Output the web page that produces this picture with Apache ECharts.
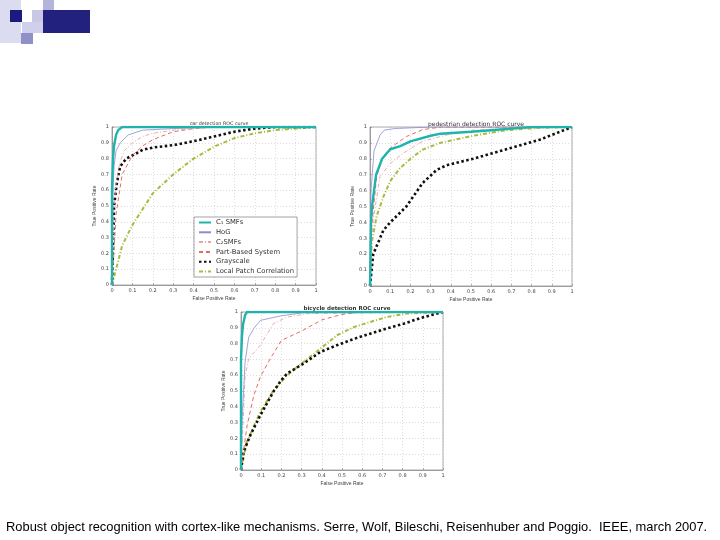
<!DOCTYPE html>
<html>
<head>
<meta charset="utf-8">
<script src="https://cdn.jsdelivr.net/npm/echarts@6/dist/echarts.min.js"></script>
<style>
  html, body { margin: 0; padding: 0; background: #fff; }
  #main { width: 720px; height: 540px; }
</style>
</head>
<body>
<div id="main"></div>
<script>
  // series names, shared by the three plots
  const seriesNames = ['C\u2081 SMFs', 'HoG', 'C\u2082SMFs', 'Part-Based System', 'Grayscale', 'Local Patch Correlation'];
  const plotTitles = ['car detection ROC curve', 'pedestrian detection ROC curve', 'bicycle detection ROC curve'];

  // car detection: [false positive rate, true positive rate]
  const carC1 = [[0,0],[0,0.6],[0.005,0.8],[0.01,0.88],[0.02,0.95],[0.03,0.98],[0.05,1],[1,1]];
  const carHoG = [[0,0],[0.005,0.6],[0.01,0.75],[0.02,0.85],[0.04,0.9],[0.08,0.95],[0.15,0.98],[0.3,0.99],[0.5,1],[1,1]];
  const carC2 = [[0,0],[0.01,0.5],[0.02,0.65],[0.04,0.78],[0.06,0.85],[0.1,0.9],[0.15,0.94],[0.2,0.96],[0.3,0.98],[0.5,1],[1,1]];
  const carPart = [[0,0],[0.02,0.45],[0.05,0.7],[0.1,0.82],[0.15,0.88],[0.2,0.92],[0.3,0.97],[0.4,0.99],[0.5,1],[1,1]];
  const carGray = [[0,0],[0.01,0.5],[0.023,0.64],[0.04,0.75],[0.07,0.8],[0.1,0.82],[0.15,0.855],[0.2,0.87],[0.3,0.885],[0.4,0.91],[0.5,0.94],[0.6,0.97],[0.7,0.99],[0.8,1],[1,1]];
  const carLocal = [[0,0],[0.02,0.1],[0.05,0.25],[0.1,0.38],[0.2,0.58],[0.3,0.7],[0.4,0.8],[0.5,0.875],[0.6,0.93],[0.7,0.96],[0.8,0.98],[0.9,0.99],[1,1]];

  // pedestrian detection
  const pedC1 = [[0,0],[0.005,0.4],[0.01,0.5],[0.03,0.7],[0.06,0.8],[0.1,0.86],[0.15,0.88],[0.2,0.91],[0.3,0.945],[0.35,0.958],[0.5,0.97],[0.6,0.98],[0.7,0.99],[0.8,1],[1,1]];
  const pedHoG = [[0,0],[0.005,0.6],[0.02,0.85],[0.05,0.95],[0.07,0.98],[0.12,0.99],[0.3,1],[1,1]];
  const pedC2 = [[0,0],[0.016,0.42],[0.05,0.69],[0.1,0.77],[0.165,0.836],[0.26,0.91],[0.38,0.95],[0.51,0.98],[0.67,0.99],[1,1]];
  const pedPart = [[0,0],[0.008,0.37],[0.033,0.69],[0.066,0.815],[0.1,0.868],[0.18,0.94],[0.26,0.983],[0.35,1],[1,1]];
  const pedGray = [[0,0],[0.016,0.2],[0.066,0.35],[0.1,0.4],[0.18,0.5],[0.26,0.647],[0.33,0.73],[0.38,0.76],[0.51,0.8],[0.675,0.86],[0.84,0.92],[1,1]];
  const pedLocal = [[0,0],[0.008,0.27],[0.033,0.44],[0.066,0.56],[0.1,0.66],[0.148,0.74],[0.2,0.8],[0.26,0.857],[0.346,0.9],[0.51,0.945],[0.675,0.98],[0.84,0.995],[1,1]];

  // bicycle detection
  const bikeC1 = [[0,0],[0,0.7],[0.005,0.85],[0.01,0.92],[0.02,0.98],[0.03,1],[1,1]];
  const bikeHoG = [[0,0],[0.005,0.3],[0.02,0.68],[0.038,0.84],[0.063,0.895],[0.096,0.947],[0.195,0.975],[0.31,0.996],[1,1]];
  const bikeC2 = [[0,0],[0.02,0.59],[0.038,0.705],[0.096,0.79],[0.16,0.926],[0.228,0.968],[0.33,0.99],[1,1]];
  const bikePart = [[0,0],[0.03,0.28],[0.063,0.47],[0.096,0.59],[0.145,0.705],[0.2,0.82],[0.3,0.88],[0.4,0.95],[0.5,0.985],[0.6,1],[1,1]];
  const bikeGray = [[0,0],[0.013,0.116],[0.046,0.22],[0.096,0.347],[0.16,0.495],[0.2,0.57],[0.228,0.61],[0.31,0.674],[0.393,0.747],[0.475,0.79],[0.56,0.83],[0.64,0.863],[0.72,0.895],[0.805,0.926],[0.89,0.962],[0.97,0.99],[1,1]];
  const bikeLocal = [[0,0],[0.03,0.18],[0.096,0.37],[0.16,0.5],[0.228,0.6],[0.31,0.684],[0.393,0.768],[0.475,0.853],[0.56,0.905],[0.64,0.937],[0.72,0.968],[0.82,0.99],[1,1]];

  const plotData = [
    [carC1, carHoG, carC2, carPart, carGray, carLocal],
    [pedC1, pedHoG, pedC2, pedPart, pedGray, pedLocal],
    [bikeC1, bikeHoG, bikeC2, bikePart, bikeGray, bikeLocal]
  ];

  const lineStyles = [
    {color: '#1fb3ad', width: 2.4, type: 'solid'},
    {color: '#8c8cd0', width: 0.8, type: 'solid'},
    {color: '#e9a4a4', width: 0.9, type: [4, 2, 1, 2]},
    {color: '#e66a62', width: 1, type: [4, 3]},
    {color: '#111111', width: 2.6, type: [2.5, 2.5]},
    {color: '#a9bb3c', width: 2, type: [4, 2, 1, 2]}
  ];

  const grids = [
    {left: 112, top: 127, width: 204, height: 158},
    {left: 370, top: 127, width: 202, height: 159},
    {left: 241, top: 312, width: 202, height: 158}
  ];

  const chart = echarts.init(document.getElementById('main'));

  const axisLabel = {fontSize: 5, color: '#444', margin: 3, fontFamily: 'DejaVu Sans'};
  const split = {show: true, lineStyle: {color: '#bbb', width: 0.5, type: [1, 2]}};

  const xAxis = grids.map((g, i) => ({
    gridIndex: i, type: 'value', min: 0, max: 1, interval: 0.1,
    name: 'False Positive Rate', nameLocation: 'middle', nameGap: 11,
    nameTextStyle: {fontSize: 5, color: '#444'},
    axisLine: {lineStyle: {color: '#777', width: 0.6}},
    axisTick: {inside: true, length: 2, lineStyle: {color: '#777', width: 0.5}},
    axisLabel: axisLabel, splitLine: split
  }));
  const yAxis = grids.map((g, i) => ({
    gridIndex: i, type: 'value', min: 0, max: 1, interval: 0.1,
    name: 'True Positive Rate', nameLocation: 'middle', nameGap: 14,
    nameTextStyle: {fontSize: 5, color: '#444'},
    axisLine: {lineStyle: {color: '#777', width: 0.6}},
    axisTick: {inside: true, length: 2, lineStyle: {color: '#777', width: 0.5}},
    axisLabel: axisLabel, splitLine: split
  }));

  const series = [];
  plotData.forEach((lines, gi) => {
    lines.forEach((pts, si) => {
      series.push({
        name: seriesNames[si], type: 'line', xAxisIndex: gi, yAxisIndex: gi,
        data: pts, symbol: 'none', showSymbol: false, smooth: false,
        lineStyle: lineStyles[si], itemStyle: {color: lineStyles[si].color},
        z: 10 - si, animation: false
      });
    });
  });

  const titleSizes = [4.8, 6, 5.5];
  const title = plotTitles.map((t, i) => ({
    text: t, left: grids[i].left + grids[i].width / 2, top: grids[i].top - 11,
    textAlign: 'center',
    textStyle: {fontSize: titleSizes[i], fontWeight: i === 2 ? 'bold' : 'normal', color: '#333', fontFamily: 'DejaVu Sans'}
  }));

  // slide decoration
  const logo = [
    {x: 0, y: 0, w: 21, h: 43, c: '#dcdcf0'},
    {x: 10, y: 10, w: 12, h: 12, c: '#1a1a80'},
    {x: 22, y: 22, w: 21, h: 11, c: '#d0d0ec'},
    {x: 32, y: 10, w: 11, h: 12, c: '#c8c8e6'},
    {x: 43, y: 0, w: 11, h: 22, c: '#b4b4dc'},
    {x: 43, y: 10, w: 47, h: 23, c: '#22227e'},
    {x: 21, y: 33, w: 12, h: 11, c: '#9090c8'}
  ];

  chart.setOption({
    backgroundColor: '#fff',
    animation: false,
    title: title,
    grid: grids.map(g => Object.assign({show: true, borderColor: '#777', borderWidth: 0.6, backgroundColor: '#fff'}, g)),
    xAxis: xAxis,
    yAxis: yAxis,
    legend: {
      data: seriesNames, orient: 'vertical', left: 194, top: 217,
      itemWidth: 12, itemHeight: 6, itemGap: 2.8,
      padding: [2, 3, 2, 4],
      itemStyle: {opacity: 0},
      backgroundColor: '#fff', borderColor: '#666', borderWidth: 0.6,
      textStyle: {fontSize: 6.8, color: '#333', fontFamily: 'DejaVu Sans'}
    },
    series: series,
    graphic: logo.map(r => ({
      type: 'rect', shape: {x: r.x, y: r.y, width: r.w, height: r.h},
      style: {fill: r.c}, silent: true
    })).concat([{
      type: 'text', left: 6, top: 521,
      style: {
        text: 'Robust object recognition with cortex-like mechanisms. Serre, Wolf, Bileschi, Reisenhuber and Poggio.  IEEE, march 2007.',
        fontSize: 12.9, fontFamily: 'Liberation Sans', fill: '#000'
      }
    }])
  });
</script>
</body>
</html>
